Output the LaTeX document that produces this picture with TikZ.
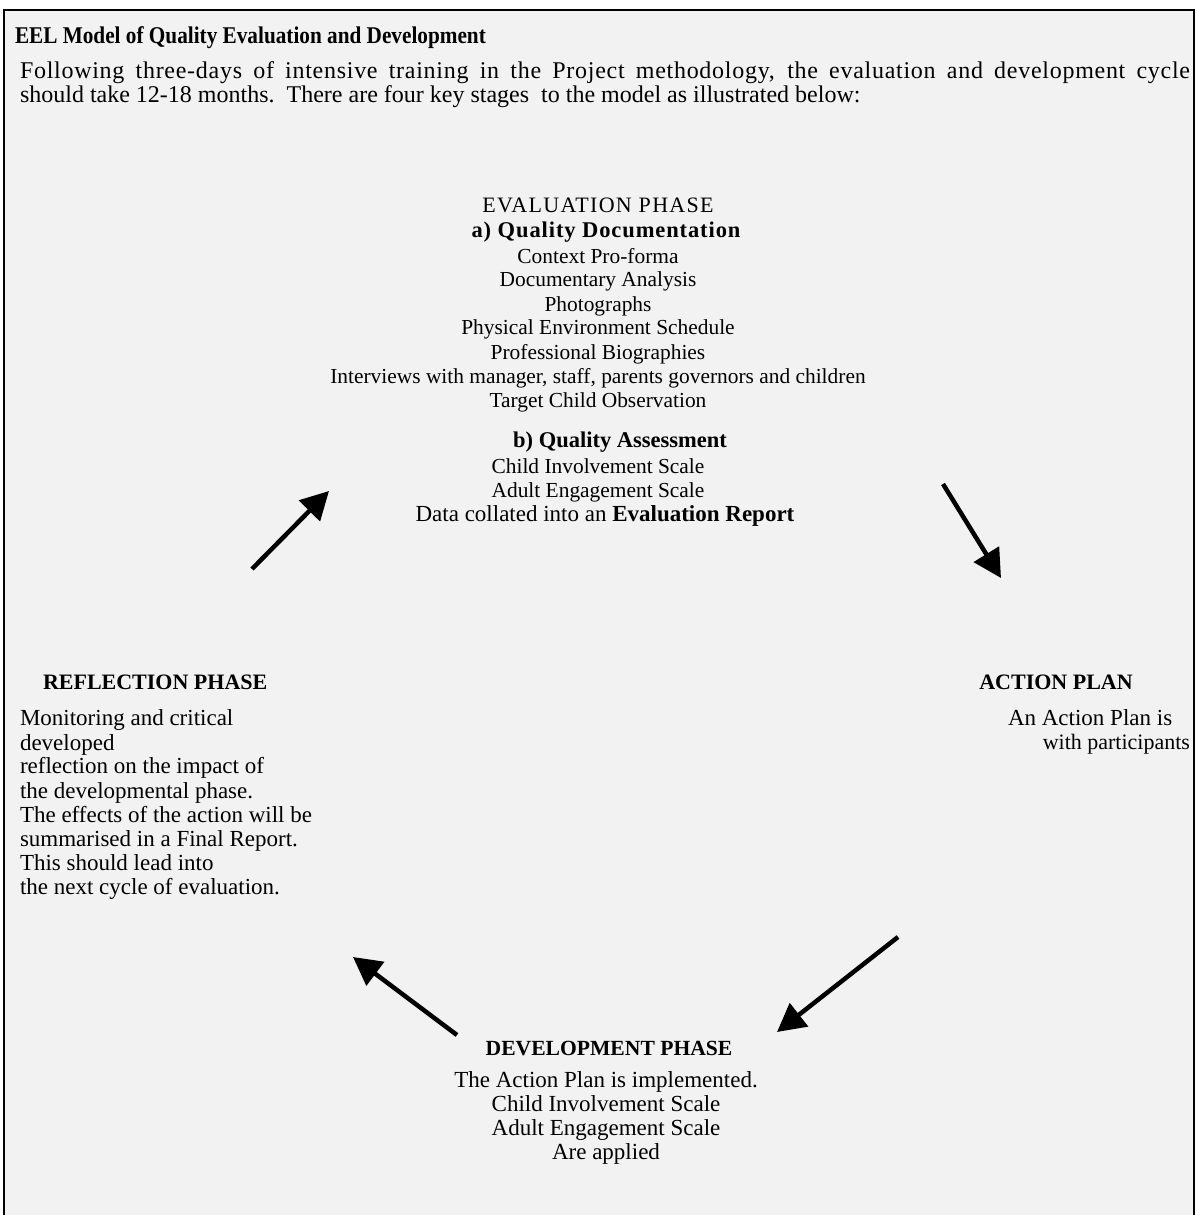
\documentclass[tikz,border=0pt]{standalone}
\usepackage{fontspec}
\setmainfont{Liberation Serif}
\newfontfamily\titlefont[FakeStretch=0.885]{Liberation Serif}
\newfontfamily\spacedfont[LetterSpace=4]{Liberation Serif}
\newfontfamily\widefont[LetterSpace=6]{Liberation Serif}
\newfontfamily\introfont[LetterSpace=3]{Liberation Serif}
\usetikzlibrary{arrows.meta}
\definecolor{panel}{HTML}{F2F2F2}
\begin{document}
\begin{tikzpicture}[x=1pt,y=-1pt,
  every node/.style={inner sep=0pt,outer sep=0pt},
  bodytxt/.style={anchor=base west,font=\fontsize{24}{28}\selectfont},
  titletxt/.style={anchor=base west,font=\titlefont\bfseries\fontsize{24}{28}\selectfont},
  evaltxt/.style={anchor=base,font=\fontsize{21.4}{26}\selectfont},
  diagtxt/.style={anchor=base,font=\fontsize{23}{26}\selectfont},
  subhead/.style={anchor=base,font=\spacedfont\bfseries\fontsize{22.5}{26}\selectfont},
  headtxt/.style={anchor=base,font=\bfseries\fontsize{22}{26}\selectfont},
  lefttxt/.style={anchor=base west,font=\fontsize{23}{26}\selectfont},
  cyclearrow/.style={line width=4.5pt,-{Triangle[length=28pt,width=29pt]}}
]
\useasboundingbox (0,0) rectangle (1195,1215);
\fill[white] (0,0) rectangle (1195,1215);
\fill[panel] (4,10) rectangle (1194,1215);
\draw[line width=2pt] (4,1215) -- (4,10) -- (1194,10) -- (1194,1215);

\node[titletxt] (title) at (15,44) {EEL Model of Quality Evaluation and Development};
\node[bodytxt,font=\introfont\fontsize{24}{28}\selectfont] (intro1) at (20,78) {\makebox[1170pt][s]{Following three-days of intensive training in the Project methodology, the evaluation and development cycle}};
\node[bodytxt] (intro2) at (20,102) {should take 12-18 months.\ \ There are four key stages\ \ to the model as illustrated below:};

% evaluation phase
\node[evaltxt,font=\widefont\fontsize{22}{26}\selectfont] (ev0) at (598,212) {EVALUATION PHASE};
\node[subhead] (ev1) at (606,237) {a) Quality Documentation};
\node[evaltxt] (ev2) at (598,263) {Context Pro-forma};
\node[evaltxt] (ev3) at (598,286) {Documentary Analysis};
\node[evaltxt] (ev4) at (598,311) {Photographs};
\node[evaltxt] (ev5) at (598,334) {Physical Environment Schedule};
\node[evaltxt] (ev6) at (598,359) {Professional Biographies};
\node[evaltxt] (ev7) at (598,383) {Interviews with manager, staff, parents governors and children};
\node[evaltxt] (ev8) at (598,407) {Target Child Observation};
\node[subhead,font=\bfseries\fontsize{22.5}{26}\selectfont] (ev9) at (620,447) {b) Quality Assessment};
\node[evaltxt] (ev10) at (598,473) {Child Involvement Scale};
\node[evaltxt] (ev11) at (598,497) {Adult Engagement Scale};
\node[diagtxt] (ev12) at (605,521) {Data collated into an \textbf{Evaluation Report}};

% reflection phase
\node[headtxt,anchor=base west] (rf0) at (43,689) {REFLECTION PHASE};
\node[lefttxt] (rf1) at (20,725) {Monitoring and critical};
\node[lefttxt] (rf2) at (20,750) {developed};
\node[lefttxt] (rf3) at (20,773) {reflection on the impact of};
\node[lefttxt] (rf4) at (20,798) {the developmental phase.};
\node[lefttxt] (rf5) at (20,822) {The effects of the action will be};
\node[lefttxt] (rf6) at (20,846) {summarised in a Final Report.};
\node[lefttxt] (rf7) at (20,870) {This should lead into};
\node[lefttxt] (rf8) at (20,894) {the next cycle of evaluation.};

% action plan
\node[headtxt] (ap0) at (1056,689) {ACTION PLAN};
\node[lefttxt] (ap1) at (1008,725) {An Action Plan is};
\node[lefttxt,anchor=base east,font=\fontsize{22}{26}\selectfont] (ap2) at (1190,749) {with participants};

% development phase
\node[headtxt,font=\bfseries\fontsize{21.6}{26}\selectfont] (dv0) at (609,1055) {DEVELOPMENT PHASE};
\node[diagtxt] (dv1) at (606,1087) {The Action Plan is implemented.};
\node[diagtxt] (dv2) at (606,1111) {Child Involvement Scale};
\node[diagtxt] (dv3) at (606,1135) {Adult Engagement Scale};
\node[diagtxt] (dv4) at (606,1159) {Are applied};

% cycle arrows
\coordinate (a1s) at (252,569); \coordinate (a1e) at (329,491);
\coordinate (a2s) at (943,484); \coordinate (a2e) at (1001,578);
\coordinate (a3s) at (898,937); \coordinate (a3e) at (777,1032);
\coordinate (a4s) at (457,1035); \coordinate (a4e) at (353,957);
\draw[cyclearrow] (a1s) -- (a1e);
\draw[cyclearrow] (a2s) -- (a2e);
\draw[cyclearrow] (a3s) -- (a3e);
\draw[cyclearrow] (a4s) -- (a4e);
\end{tikzpicture}
\end{document}
